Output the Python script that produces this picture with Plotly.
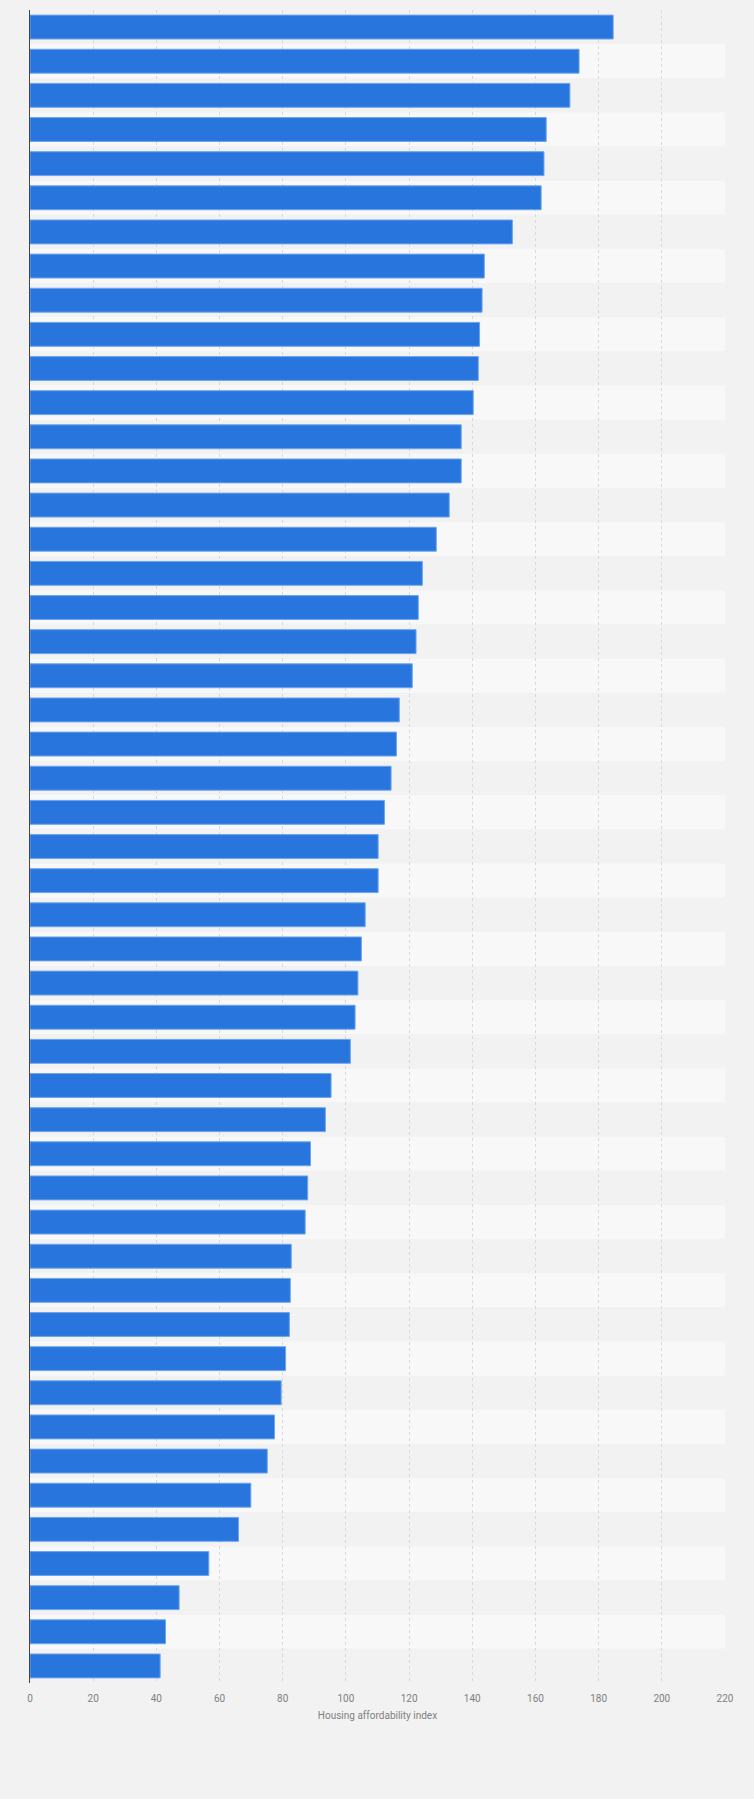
import plotly.graph_objects as go

# one bar per area, top to bottom (category names are not shown in the chart)
areas = [f"Area {i}" for i in range(1, 50)]
index_values = [
    184.6, 173.8, 170.9, 163.4, 162.7, 161.8, 152.7, 143.8, 143.1, 142.3,
    141.9, 140.3, 136.5, 136.5, 132.7, 128.6, 124.2, 122.9, 122.2, 121.0,
    116.9, 116.0, 114.3, 112.2, 110.2, 110.2, 106.1, 104.9, 103.8, 102.9,
    101.4, 95.3, 93.5, 88.8, 87.9, 87.1, 82.7, 82.4, 82.1, 80.9,
    79.5, 77.4, 75.1, 69.9, 66.0, 56.6, 47.2, 42.9, 41.2,
]
x_ticks = list(range(0, 221, 20))

bar_color = '#2876dd'
font = 'Roboto, Arial, sans-serif'

fig = go.Figure(go.Bar(
    x=index_values,
    y=areas,
    orientation='h',
    marker=dict(color=bar_color, line=dict(color='#6aa5ef', width=1)),
    hoverinfo='x',
))

# alternating row bands behind the bars
shapes = []
for i in range(len(areas)):
    shapes.append(dict(
        type='rect', xref='paper', yref='y', layer='below',
        x0=0, x1=1, y0=i - 0.5, y1=i + 0.5,
        fillcolor='#f2f2f2' if i % 2 == 0 else '#f8f8f8',
        line=dict(width=0),
    ))

fig.update_layout(
    width=754, height=1799,
    margin=dict(l=30, r=29, t=10, b=116),
    paper_bgcolor='#f2f2f2', plot_bgcolor='#f2f2f2',
    bargap=0.3,
    showlegend=False,
    shapes=shapes,
    font=dict(family=font, size=10, color='#666666'),
)
fig.update_xaxes(
    range=[0, 220], tickvals=x_ticks,
    showgrid=True, gridcolor='#d9d9d9', griddash='dot', gridwidth=1,
    zeroline=False, showline=False,
    ticks='outside', ticklen=6, tickcolor='rgba(0,0,0,0)',
    tickfont=dict(size=10, color='#808080'),
    title=dict(text='Housing affordability index', font=dict(size=10, color='#808080'), standoff=8),
    layer='below traces',
)
fig.update_yaxes(
    autorange='reversed', showticklabels=False, showgrid=False,
    showline=True, linecolor='#444444', linewidth=1, zeroline=False,
)

# drop the browser's default page margin so the chart fills the window
fig.write_html("out.html", config={'displayModeBar': False},
               post_script="document.body.style.margin = '0';")
